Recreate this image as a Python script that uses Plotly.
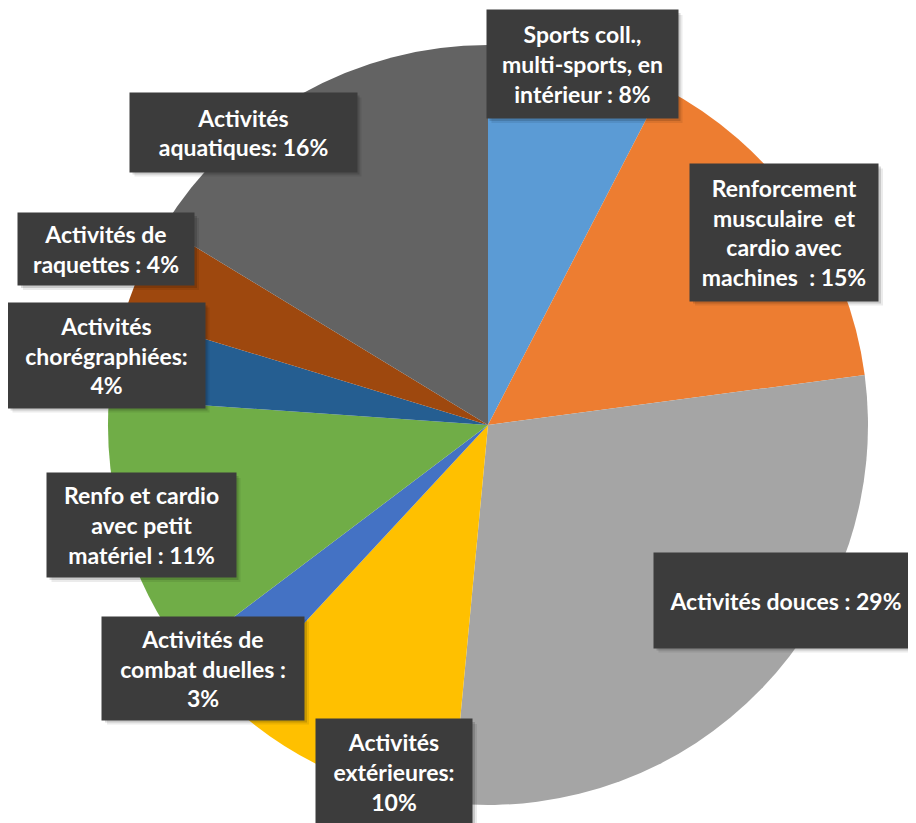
import plotly.graph_objects as go

categories = ['Sports coll., multi-sports, en intérieur', 'Renforcement musculaire et cardio avec machines',
              'Activités douces', 'Activités extérieures', 'Activités de combat duelles',
              'Renfo et cardio avec petit matériel', 'Activités chorégraphiées',
              'Activités de raquettes', 'Activités aquatiques']
# underlying shares (labels show them rounded)
shares = [7.6, 15.3, 28.6, 10.4, 2.8, 11.4, 3.6, 4.0, 16.3]
colors = ['#5B9BD5', '#ED7D31', '#A5A5A5', '#FFC000', '#4472C4',
          '#70AD47', '#255E91', '#9E480E', '#636363']

# label text as shown in the boxes (line breaks as in the original)
box_texts = ['Sports coll.,<br>multi-sports, en<br>intérieur : 8%',
             'Renforcement<br>musculaire  et<br>cardio avec<br>machines  : 15%',
             'Activités douces : 29%',
             'Activités<br>extérieures:<br>10%',
             'Activités de<br>combat duelles :<br>3%',
             'Renfo et cardio<br>avec petit<br>matériel : 11%',
             'Activités<br>chorégraphiées:<br>4%',
             'Activités de<br>raquettes : 4%',
             'Activités<br>aquatiques: 16%']
# box centre (px from left, px from top, as seen on the page) and size in px
box_pos = [(582, 64), (784, 232), (785, 600), (394, 772), (203, 668),
           (141, 525), (106, 355), (106, 249), (243, 132)]
box_size = [(191, 108), (188, 137), (263, 95), (156, 106), (202, 103),
            (189, 104), (197, 105), (176, 72), (227, 79)]

W, H = 916, 823
off = 8  # page body margin shifts the whole plot 8px right/down
cx0, cy0, r = 488 - off, 425 - off, 380

fig = go.Figure(go.Pie(
    labels=categories, values=shares, sort=False, direction='clockwise', rotation=0,
    marker=dict(colors=colors, line=dict(width=0)), textinfo='none', hoverinfo='label+percent',
    domain=dict(x=[(cx0 - r) / W, (cx0 + r) / W], y=[1 - (cy0 + r) / H, 1 - (cy0 - r) / H]),
))

for txt, (cx, cy), (bw, bh) in zip(box_texts, box_pos, box_size):
    px, py = cx - off, cy - off
    # soft drop shadow
    for d, a in [(5, 0.08), (3, 0.14)]:
        fig.add_shape(type='rect', xref='paper', yref='paper', layer='above', line_width=0,
                      fillcolor='rgba(0,0,0,%s)' % a,
                      x0=(px - bw / 2 + d) / W, x1=(px + bw / 2 + d) / W,
                      y0=1 - (py + bh / 2 + d) / H, y1=1 - (py - bh / 2 + d) / H)
    fig.add_annotation(x=px / W, y=1 - py / H, xref='paper', yref='paper', text=txt,
                       xanchor='center', yanchor='middle',
                       showarrow=False, width=bw, height=bh, bgcolor='#3c3c3c',
                       borderpad=0, align='center', valign='middle',
                       font=dict(family='Lato', size=23, color='white', weight='bold'))

fig.update_layout(width=W, height=H, margin=dict(l=0, r=0, t=0, b=0),
                  showlegend=False, paper_bgcolor='white', plot_bgcolor='white')
fig.write_html('out.html')
